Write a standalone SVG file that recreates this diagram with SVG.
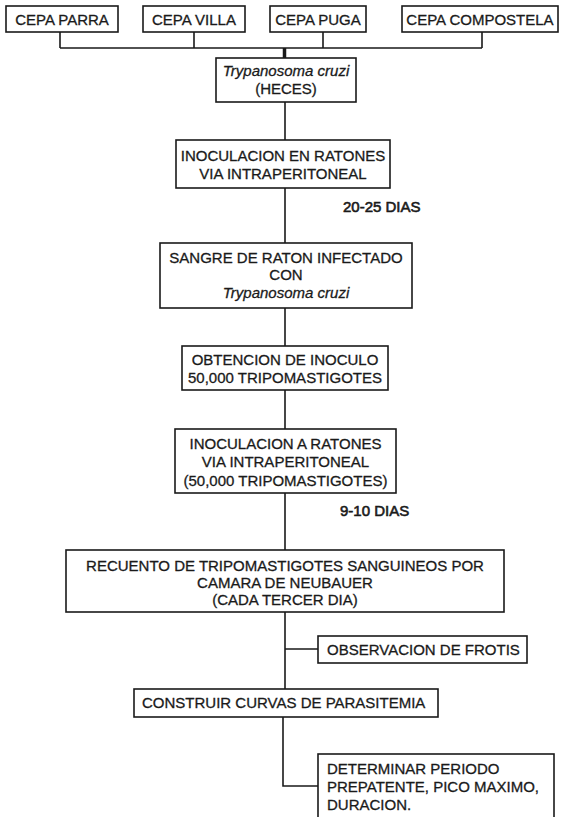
<svg xmlns="http://www.w3.org/2000/svg" width="562" height="817" viewBox="0 0 562 817">
<style>
.box{fill:#fff;stroke:#1a1a1a;stroke-width:1.6}
.ln{fill:none;stroke:#1a1a1a;stroke-width:1.6}
text{font-family:"Liberation Sans",Arial,sans-serif;font-size:15px;fill:#1a1a1a;stroke:#1a1a1a;stroke-width:0.3}
.c{text-anchor:middle}
.i{font-style:italic}
.lbl{stroke-width:0.6}
</style>
<rect width="562" height="817" fill="#fff" stroke="none"/>
<g id="connectors">
<path class="ln" d="M60 32V48M194 32V48M323 32V48M482 32V48M60 48H482"/>
<path d="M284.5 48V58" stroke="#1a1a1a" stroke-width="3.5" fill="none"/>
<path class="ln" d="M285 102V140M285 188V243M285 308V346M285 390V429M285 493V550M285 612V689M285 649H318M283 717V786H318"/>
</g>
<g id="n_parra"><rect class="box" x="6" y="6" width="112" height="26"/><text class="c" x="62" y="25">CEPA PARRA</text></g>
<g id="n_villa"><rect class="box" x="143" y="6" width="102" height="26"/><text class="c" x="194" y="25">CEPA VILLA</text></g>
<g id="n_puga"><rect class="box" x="270" y="6" width="96" height="26"/><text class="c" x="318" y="25">CEPA PUGA</text></g>
<g id="n_compostela"><rect class="box" x="402" y="6" width="156" height="26"/><text class="c" x="480" y="25">CEPA COMPOSTELA</text></g>
<g id="n_tcruzi"><rect class="box" x="216" y="58" width="140" height="44"/><text class="c i" x="286" y="76">Trypanosoma cruzi</text><text class="c" x="286" y="94">(HECES)</text></g>
<g id="n_inoc1"><rect class="box" x="176" y="140" width="214" height="48"/><text class="c" x="283" y="161">INOCULACION EN RATONES</text><text class="c" x="283" y="179">VIA INTRAPERITONEAL</text></g>
<g id="lbl_2025"><text class="lbl" x="343" y="212">20-25 DIAS</text></g>
<g id="n_sangre"><rect class="box" x="160" y="243" width="252" height="65"/><text class="c" x="286" y="263">SANGRE DE RATON INFECTADO</text><text class="c" x="286" y="280">CON</text><text class="c i" x="286" y="298">Trypanosoma cruzi</text></g>
<g id="n_obtencion"><rect class="box" x="182" y="346" width="206" height="44"/><text class="c" x="285" y="365">OBTENCION DE INOCULO</text><text class="c" x="285" y="383">50,000 TRIPOMASTIGOTES</text></g>
<g id="n_inoc2"><rect class="box" x="175" y="429" width="221" height="64"/><text class="c" x="285.5" y="449">INOCULACION A RATONES</text><text class="c" x="285.5" y="467">VIA INTRAPERITONEAL</text><text class="c" x="285.5" y="486">(50,000 TRIPOMASTIGOTES)</text></g>
<g id="lbl_910"><text class="lbl" x="340" y="516">9-10 DIAS</text></g>
<g id="n_recuento"><rect class="box" x="66" y="550" width="438" height="62"/><text class="c" x="285" y="571">RECUENTO DE TRIPOMASTIGOTES SANGUINEOS POR</text><text class="c" x="285" y="588">CAMARA DE NEUBAUER</text><text class="c" x="285" y="605">(CADA TERCER DIA)</text></g>
<g id="n_frotis"><rect class="box" x="318" y="636" width="209" height="27"/><text x="327" y="655">OBSERVACION DE FROTIS</text></g>
<g id="n_curvas"><rect class="box" x="134" y="689" width="304" height="28"/><text x="142" y="708">CONSTRUIR CURVAS DE PARASITEMIA</text></g>
<g id="n_determinar"><rect class="box" x="318" y="754" width="236" height="72"/><text x="327" y="774">DETERMINAR PERIODO</text><text x="327" y="792">PREPATENTE, PICO MAXIMO,</text><text x="327" y="810">DURACION.</text></g>
</svg>
